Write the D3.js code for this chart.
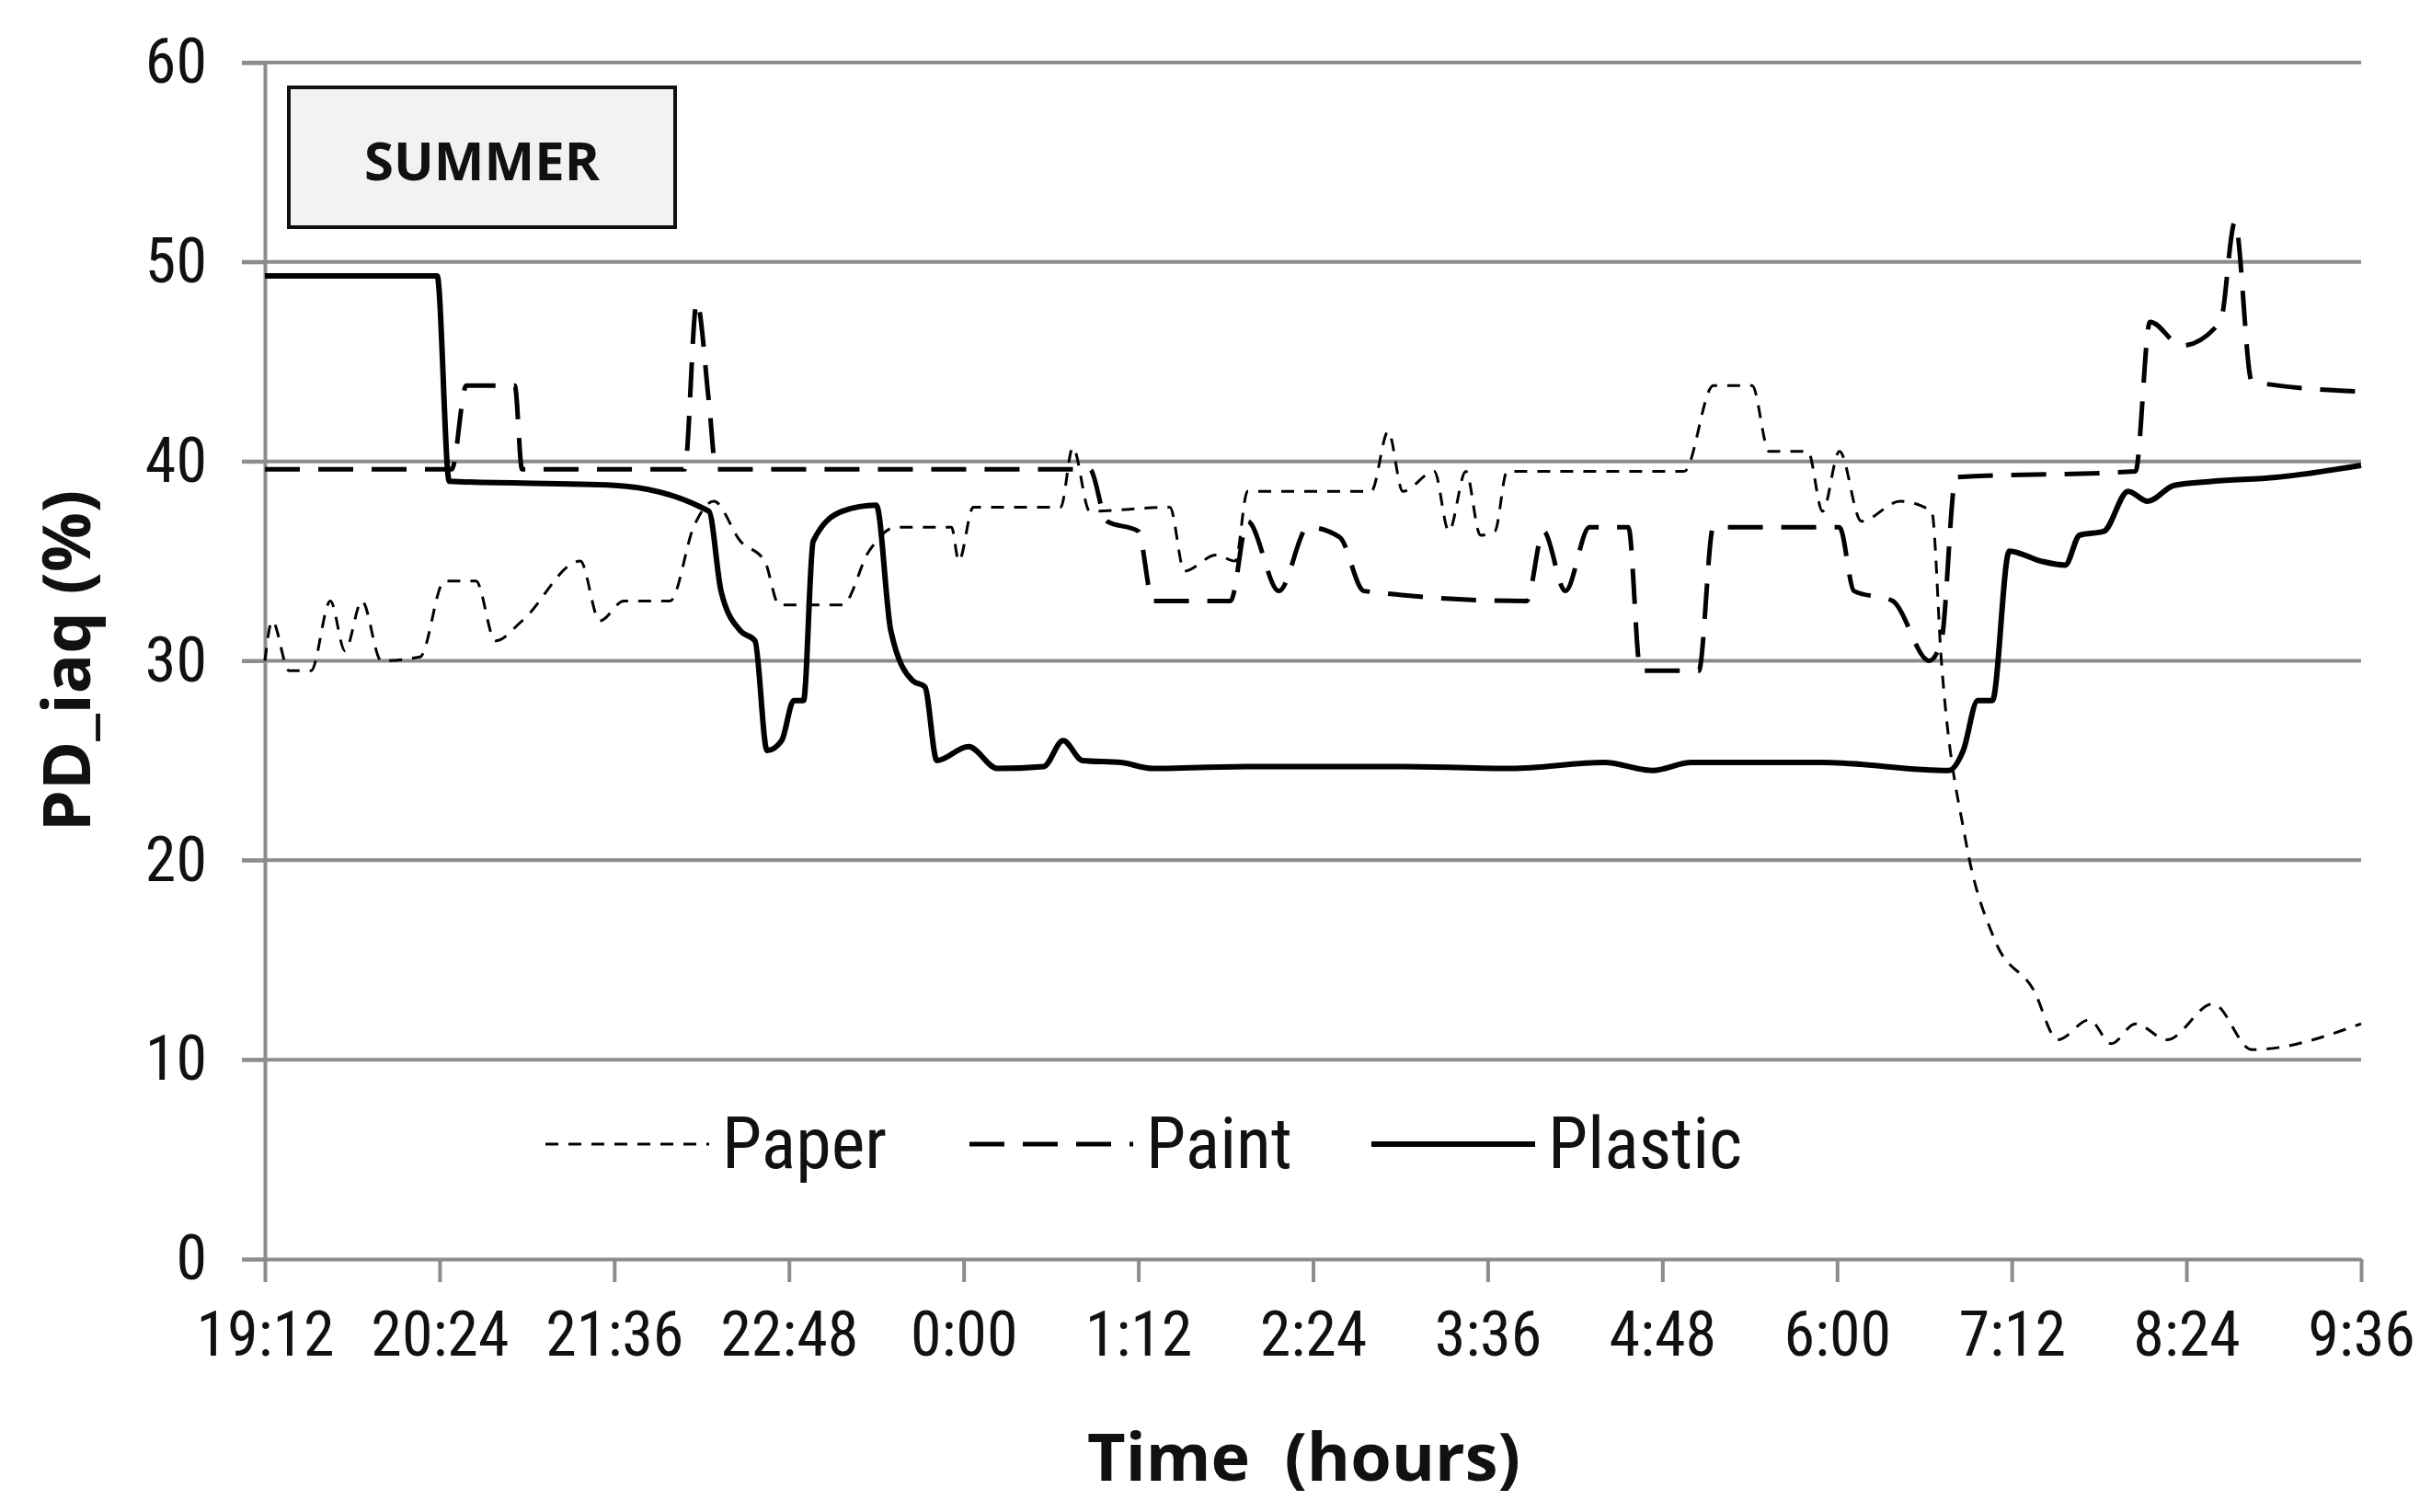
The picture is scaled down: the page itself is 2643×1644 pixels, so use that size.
<!DOCTYPE html>
<html><head><meta charset="utf-8">
<script src="https://cdn.jsdelivr.net/npm/d3@7"></script>
<style>body{margin:0;background:#fff}</style></head>
<body><svg id="c" width="2643" height="1644"></svg>
<script>
const xTickLabels=["19:12","20:24","21:36","22:48","0:00","1:12","2:24","3:36","4:48","6:00","7:12","8:24","9:36"];
const yTicks=[0,10,20,30,40,50,60];
// minutes since 19:12, value
const plasticT=[0,71,76,144,183,188,196,202,207,213,218,222,226,238,252,258,267,272,277,290,302,321,329,337,353,366,405,469,514,552,572,588,642,694,700,706,712,719,732,742,748,758,768,776,787,803,829,864];
const plasticV=[49.3,49.3,39,38.8,37.5,33.5,31.5,31,25.5,26,28,28,36,37.5,37.8,31.5,29,28.7,25,25.7,24.6,24.7,26,25,24.9,24.6,24.7,24.7,24.6,24.9,24.5,24.9,24.9,24.5,25.5,28,28,35.5,35,34.8,36.3,36.5,38.5,38,38.8,39,39.2,39.8];
const paintT=[0,77,83,103,106,170,173,178,183,186,334,340,347,360,366,398,405,418,430,443,453,520,527,536,546,562,567,591,597,649,655,671,686,691,697,771,777,790,806,812,819,864];
const paintV=[39.6,39.6,43.8,43.8,39.6,39.6,39.6,48,43,39.6,39.6,39.6,37,36.5,33,33,37,33.5,36.7,36.2,33.5,33,36.5,33.5,36.7,36.7,29.5,29.5,36.7,36.7,33.5,33,30,31,39.2,39.5,47,45.8,47,52,44,43.5];
const paperT=[0,3,10,19,27,33,40,48,64,74,87,95,106,130,138,148,167,177,185,196,206,212,238,249,260,283,286,292,328,333,340,373,379,392,400,405,456,463,469,482,488,495,501,507,512,585,597,613,620,636,642,649,658,674,687,691,701,713,729,739,752,761,771,784,803,819,864];
const paperV=[30,32,29.5,29.5,33,30.5,33,30,30.2,34,34,31,32,35,32,33,33,36.8,38,36,35,32.8,32.8,35.5,36.7,36.7,35,37.7,37.7,40.7,37.5,37.7,34.5,35.3,35,38.5,38.5,41.5,38.5,39.5,36.5,39.5,36.3,36.5,39.5,39.5,43.8,43.8,40.5,40.5,37.5,40.5,37,38,37.5,30,21,16,13.5,11,12,10.8,11.8,11,12.8,10.5,11.8];

const svg=d3.select("#c");
const L=288,R=2567,T=68,B=1369;
const x=d3.scaleLinear().domain([0,864]).range([L,R]);
const y=d3.scaleLinear().domain([0,60]).range([B,T]);
const font="'Liberation Sans Narrow','Roboto Condensed','Liberation Sans',sans-serif";
const bfont="'Open Sans','Liberation Sans',sans-serif";
// grid
svg.append("g").selectAll("line").data(yTicks.filter(d=>d>0)).join("line")
 .attr("x1",L-25).attr("x2",R).attr("y1",d=>y(d)).attr("y2",d=>y(d))
 .attr("stroke","#8c8c8c").attr("stroke-width",4);
// y axis
const ya=svg.append("g").attr("transform",`translate(${L},0)`).call(d3.axisLeft(y).tickValues(yTicks).tickSize(25).tickPadding(18));
ya.select(".domain").attr("stroke","#8c8c8c").attr("stroke-width",4);
ya.selectAll(".tick line").attr("stroke","#8c8c8c").attr("stroke-width",4);
ya.selectAll("text").attr("font-family",font).attr("font-size",68).attr("fill","#111").attr("dx",-20);
// x axis
const xa=svg.append("g").attr("transform",`translate(0,${B})`).call(d3.axisBottom(x).tickValues(d3.range(0,865,72)).tickFormat((d,i)=>xTickLabels[i]).tickSize(25).tickPadding(32).tickSizeOuter(0));
xa.select(".domain").attr("stroke","#8c8c8c").attr("stroke-width",4);
xa.selectAll(".tick line").attr("stroke","#8c8c8c").attr("stroke-width",4);
xa.selectAll("text").attr("font-family",font).attr("font-size",68).attr("fill","#111");
// titles
svg.append("text").attr("x",(L+R)/2-10).attr("y",1610).attr("text-anchor","middle").attr("font-family",bfont).attr("font-weight","bold").attr("font-size",72).attr("fill","#111").attr("xml:space","preserve").text("Time  (hours)");
svg.append("text").attr("transform",`translate(98,${(T+B)/2}) rotate(-90)`).attr("text-anchor","middle").attr("font-family",bfont).attr("font-weight","bold").attr("font-size",72).attr("fill","#111").text("PD_iaq (%)");
// SUMMER box
svg.append("rect").attr("x",314).attr("y",95).attr("width",420).attr("height",152).attr("fill","#f2f2f2").attr("stroke","#111").attr("stroke-width",4);
svg.append("text").attr("x",524).attr("y",196).attr("text-anchor","middle").attr("font-family",bfont).attr("font-weight","bold").attr("font-size",58).attr("fill","#111").text("SUMMER");
// series
const series=[
 {name:"Paper",t:paperT,v:paperV,w:3,dash:"14,11"},
 {name:"Paint",t:paintT,v:paintV,w:5,dash:"38,20"},
 {name:"Plastic",t:plasticT,v:plasticV,w:6,dash:null}];
const line=d3.line().x(d=>x(d[0])).y(d=>y(d[1])).curve(d3.curveMonotoneX);
series.forEach(s=>{
 svg.append("path").datum(s.t.map((t,i)=>[t,s.v[i]])).attr("d",line).attr("fill","none")
  .attr("stroke","#000").attr("stroke-width",s.w).attr("stroke-dasharray",s.dash);
});
// legend
const lx=[593,1054,1491];
series.forEach((s,i)=>{
 svg.append("line").attr("x1",lx[i]).attr("x2",lx[i]+178).attr("y1",1244).attr("y2",1244).attr("stroke","#000").attr("stroke-width",s.w).attr("stroke-dasharray",s.dash);
 svg.append("text").attr("x",lx[i]+192).attr("y",1270).attr("font-family",font).attr("font-size",78).attr("fill","#111").text(s.name);
});
</script></body></html>
